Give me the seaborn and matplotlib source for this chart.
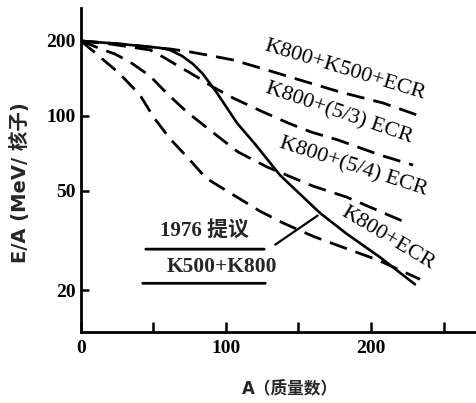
import matplotlib
matplotlib.use("Agg")
import matplotlib.pyplot as plt
import seaborn as sns
import pandas as pd
from matplotlib.ticker import FixedLocator, NullLocator, FixedFormatter

# ---- data ----
solid_x = [0, 26.9, 47.6, 54.5, 61.4, 69.7, 77.2, 84.1, 93.8, 107.6, 120.0, 137.2, 151.0, 164.8, 183.4, 206.2, 230.3]
solid_y = [200, 194.5, 189.2, 187.5, 184.0, 174.1, 161.7, 147.4, 123.7, 93.7, 77.2, 57.9, 48.6, 40.8, 33.6, 27.1, 21.1]

a_x = [0, 26.9, 47.6, 61.4, 75.2, 86.9, 104.8, 121.4, 151.0, 178.6, 208.3, 231.7]
a_y = [200, 194.5, 189.2, 185.7, 180.7, 175.7, 167.8, 157.2, 139.4, 124.8, 112.7, 100.9]

b_x = [0, 20.0, 47.6, 56.6, 68.3, 80.0, 91.0, 104.8, 124.1, 142.8, 158.6, 177.2, 206.2, 229.0]
b_y = [200, 194.5, 184.0, 172.5, 157.2, 143.4, 130.7, 118.1, 104.7, 93.7, 86.2, 80.1, 69.7, 63.5]

c_x = [0, 13.8, 23.4, 33.8, 47.6, 59.7, 73.1, 89.7, 108.3, 128.3, 160.0, 183.4, 204.1, 224.8]
c_y = [200, 185.7, 177.3, 164.7, 144.7, 122.5, 103.7, 87.0, 71.7, 62.4, 52.3, 47.2, 41.9, 37.2]

d_x = [0, 8.3, 17.2, 26.2, 40.7, 50.0, 61.4, 75.2, 86.2, 104.1, 123.4, 139.3, 160.0, 178.6, 204.8, 233.8]
d_y = [200, 182.3, 164.7, 148.8, 121.4, 99.0, 81.0, 66.5, 56.3, 48.6, 41.5, 37.2, 32.9, 30.0, 26.4, 22.1]

y_ticks = [20, 50, 100, 200]
y_ticklabels = ["20", "50", "100", "200"]
x_ticks = [0, 50, 100, 150, 200, 250]
x_ticklabels = ["0", "", "100", "", "200", ""]

sns.set_theme(style="ticks")
plt.rcParams["font.family"] = ["Liberation Serif", "Noto Sans CJK SC"]

fig = plt.figure(figsize=(4.76, 4.03), dpi=100)
ax = fig.add_axes([0.170, 0.176, 0.830, 0.804])
ax.set_yscale("log")

series = [
    (solid_x, solid_y, "-", 1.9),
    (a_x, a_y, (0, (6.5, 3.3)), 2.0),
    (b_x, b_y, (0, (6.5, 3.3)), 2.0),
    (c_x, c_y, (0, (6.5, 3.3)), 2.0),
    (d_x, d_y, (0, (6.5, 3.3)), 2.0),
]
for xs, ys, ls, lw in series:
    df = pd.DataFrame({"A": xs, "E": ys})
    sns.lineplot(data=df, x="A", y="E", ax=ax, color="black", linewidth=lw, sort=False)
    ax.get_lines()[-1].set_linestyle(ls)

ax.set_xlim(0, 272.4)
ax.set_ylim(13.57, 271)

for s in ["top", "right"]:
    ax.spines[s].set_visible(False)
for s in ["left", "bottom"]:
    ax.spines[s].set_linewidth(2.0)
    ax.spines[s].set_color("black")

ax.yaxis.set_major_locator(FixedLocator(y_ticks))
ax.yaxis.set_major_formatter(FixedFormatter(y_ticklabels))
ax.yaxis.set_minor_locator(NullLocator())
ax.xaxis.set_major_locator(FixedLocator(x_ticks))
ax.xaxis.set_major_formatter(FixedFormatter(x_ticklabels))
ax.tick_params(axis="y", direction="in", length=6, width=1.8, pad=4, labelsize=14, colors="black")
ax.tick_params(axis="x", direction="in", length=7, width=1.8, pad=6, labelsize=14, colors="black")
for lab in ax.get_xticklabels() + ax.get_yticklabels():
    lab.set_fontweight("bold")

ax.set_xlabel("")
ax.set_ylabel("")
fig.text(0.042, 0.548, "E/A (MeV/ 核子)", rotation=90, ha="center", va="center",
         fontsize=14, fontweight="bold", family=["DejaVu Sans", "Noto Sans CJK SC"])
fig.text(0.609, 0.037, "A（质量数）", ha="center", va="center",
         fontsize=12, fontweight="bold", family=["DejaVu Sans", "Noto Sans CJK SC"])

tk = dict(ha="center", va="center", rotation_mode="anchor", fontsize=16, color="black")
ax.text(182, 153, "K800+K500+ECR", rotation=-17, **tk)
ax.text(178, 102, "K800+(5/3) ECR", rotation=-19, **tk)
ax.text(188, 62.4, "K800+(5/4) ECR", rotation=-18, **tk)
ax.text(212, 32.3, "K800+ECR", rotation=-31, **tk)

ax.text(85.5, 34.5, "1976 提议", ha="center", va="center", fontsize=15, fontweight="bold",
        family=["Liberation Serif", "Noto Sans CJK SC"])
ax.text(97, 24.7, "K500+K800", ha="center", va="center", fontsize=15.5, fontweight="bold")

line_kw = dict(arrowprops=dict(arrowstyle="-", lw=2.0, color="black"), annotation_clip=False)
ax.annotate("", xy=(128.3, 29.2), xytext=(42.8, 29.2), **line_kw)
ax.annotate("", xy=(129.0, 21.3), xytext=(40.7, 21.3), **line_kw)
ax.annotate("", xy=(164.8, 40.4), xytext=(132.4, 30.0),
            arrowprops=dict(arrowstyle="-", lw=1.6, color="black"))

fig.savefig("out.png", dpi=100)
